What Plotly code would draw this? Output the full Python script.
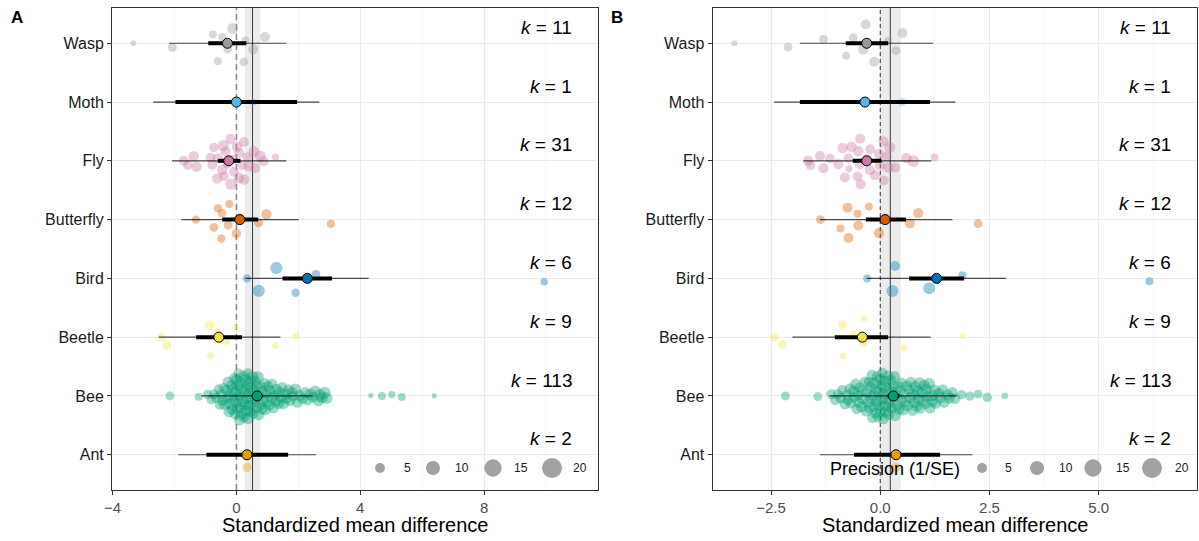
import numpy as np
import plotly.graph_objects as go

# Taxa listed from the bottom row (1) to the top row (8)
taxa = ["Ant", "Bee", "Beetle", "Bird", "Butterfly", "Fly", "Moth", "Wasp"]
taxon_colours = ["#E69F00", "#009E73", "#F0E442", "#0072B2",
                 "#D55E00", "#CC79A7", "#56B4E9", "#999999"]

# ---------------- Panel A: effect sizes (SMD) and precision (1/SE) ----------------
ant_smd_a = [0.34, 0.34]
ant_prec_a = [4.5, 4.5]

bee_smd_a = [
    -2.15, -1.22,
    -0.93, -0.81,
    -0.72, -0.65, -0.57, -0.53,
    -0.49, -0.45, -0.41, -0.37, -0.32, -0.29, -0.27,
    -0.24, -0.21, -0.20, -0.16, -0.14, -0.12, -0.09, -0.06, -0.05, -0.03, -0.01,
    0.01, 0.03, 0.04, 0.06, 0.07, 0.10, 0.12, 0.13, 0.16, 0.17, 0.19, 0.21, 0.23, 0.24,
    0.26, 0.28, 0.29, 0.32, 0.33, 0.35, 0.37, 0.38, 0.41, 0.42, 0.44, 0.46, 0.47, 0.49,
    0.52, 0.54, 0.55, 0.58, 0.60, 0.63, 0.66, 0.67, 0.70, 0.72, 0.74,
    0.77, 0.79, 0.83, 0.85, 0.87, 0.91, 0.93, 0.96, 0.99,
    1.02, 1.06, 1.08, 1.13, 1.15, 1.20, 1.23,
    1.28, 1.30, 1.36, 1.38, 1.44, 1.48,
    1.52, 1.59, 1.62, 1.68, 1.73,
    1.79, 1.83, 1.91, 1.97,
    2.04, 2.14, 2.22,
    2.30, 2.39, 2.47,
    2.54, 2.64, 2.70,
    2.77, 2.85, 2.92,
    4.34, 4.70, 5.02, 5.34, 6.39,
]
bee_prec_a = [
    4.0, 3.2,
    4.5, 5.0,
    5.0, 5.5, 4.8, 5.5,
    5.5, 6.0, 5.2, 6.5, 5.6, 6.0, 5.8,
    6.2, 5.6, 6.8, 5.4, 6.0, 7.0, 5.7, 6.3, 5.5, 6.6, 5.9,
    6.5, 5.8, 7.2, 6.0, 5.4, 6.7, 6.1, 7.0, 5.6, 6.4, 5.9, 7.3, 6.2, 5.7,
    6.9, 5.9, 6.3, 7.1, 5.5, 6.6, 6.0, 7.4, 5.8, 6.5, 6.1, 5.6, 7.0, 6.2,
    6.4, 5.7, 6.9, 6.0, 5.5, 7.1, 6.2, 5.8, 6.6, 5.9, 6.3,
    6.0, 5.6, 6.5, 5.9, 6.8, 5.5, 6.2, 5.7, 6.4,
    5.8, 6.3, 5.5, 6.6, 5.9, 6.1, 5.6,
    6.2, 5.7, 6.5, 5.8, 6.0, 5.6,
    5.9, 6.3, 5.6, 6.1, 5.8,
    6.0, 5.5, 6.4, 5.9,
    6.2, 5.8, 6.5,
    6.0, 6.6, 5.9,
    6.8, 6.4, 7.0,
    6.5, 7.2, 6.8,
    1.3, 3.2, 2.5, 3.2, 1.3,
]

beetle_smd_a = [-2.42, -2.24, -0.86, -0.84, -0.63, -0.33, -0.03, 1.26, 1.93]
beetle_prec_a = [3.5, 4.0, 4.5, 2.5, 3.0, 3.0, 2.2, 2.5, 2.2]

bird_smd_a = [0.34, 0.72, 1.29, 1.91, 2.57, 9.94]
bird_prec_a = [3.5, 7.5, 7.5, 3.5, 3.8, 2.8]

butterfly_smd_a = [-1.31, -0.73, -0.60, -0.49, -0.47, -0.27, -0.23, 0.00, 0.11, 0.72, 0.97, 3.05]
butterfly_prec_a = [3.5, 4.0, 3.5, 3.5, 3.5, 4.0, 3.5, 4.5, 4.0, 4.0, 5.5, 3.5]

fly_smd_a = [-1.70, -1.57, -1.38, -1.29, -0.84, -0.78, -0.73, -0.62, -0.60, -0.46,
             -0.43, -0.40, -0.35, -0.30, -0.19, -0.18, -0.10, -0.08, 0.02, 0.08,
             0.09, 0.18, 0.24, 0.25, 0.35, 0.40, 0.56, 0.61, 0.77, 0.88, 1.26]
fly_prec_a = [5.0, 4.5, 5.5, 5.5, 4.5, 5.0, 4.5, 5.5, 5.0, 5.5,
              6.5, 4.5, 5.0, 4.5, 5.5, 6.5, 4.5, 5.0, 5.5, 6.0,
              5.0, 4.5, 5.0, 5.5, 5.0, 5.5, 5.5, 5.0, 6.5, 5.0, 2.6]

moth_smd_a = [0.54]
moth_prec_a = [2.5]

wasp_smd_a = [-3.33, -2.07, -0.76, -0.60, -0.46, -0.28, -0.12, 0.24, 0.29, 0.54, 0.92]
wasp_prec_a = [1.8, 4.0, 3.2, 3.2, 3.2, 4.0, 6.0, 4.0, 3.2, 5.0, 5.0]

# Model estimates per taxon (order of `taxa`)
mean_a = [0.34, 0.67, -0.57, 2.29, 0.11, -0.25, 0.00, -0.29]
ci_lo_a = [-0.97, 0.56, -1.30, 1.49, -0.46, -0.60, -1.97, -0.91]
ci_hi_a = [1.67, 0.78, 0.18, 3.09, 0.70, 0.13, 1.96, 0.32]
pi_lo_a = [-1.88, -1.13, -2.51, 0.29, -1.78, -2.08, -2.69, -2.18]
pi_hi_a = [2.57, 2.47, 1.42, 4.27, 2.01, 1.61, 2.68, 1.61]
overall_a = 0.52
overall_ci_a = [0.27, 0.77]

# ---------------- Panel B: effect sizes (SMD) and precision (1/SE) ----------------
ant_smd_b = [0.36, 0.36]
ant_prec_b = [4.5, 4.5]

bee_smd_b = [
    -2.17, -1.43,
    -1.12, -1.03,
    -0.97, -0.90, -0.87, -0.81, -0.76,
    -0.74, -0.69, -0.67, -0.62, -0.60, -0.56, -0.54, -0.51,
    -0.49, -0.47, -0.43, -0.41, -0.39, -0.35, -0.32, -0.30, -0.27, -0.26,
    -0.24, -0.22, -0.21, -0.19, -0.18, -0.16, -0.14, -0.13, -0.11, -0.09, -0.08, -0.06, -0.05, -0.03, -0.02, -0.01,
    0.01, 0.03, 0.04, 0.05, 0.07, 0.09, 0.10, 0.12, 0.13, 0.14, 0.16, 0.18, 0.19, 0.21, 0.22, 0.24,
    0.26, 0.29, 0.30, 0.33, 0.34, 0.37, 0.38, 0.41, 0.43, 0.44, 0.47, 0.49,
    0.52, 0.54, 0.58, 0.61, 0.62, 0.66, 0.69, 0.70, 0.74,
    0.76, 0.79, 0.80, 0.84, 0.85, 0.88, 0.90, 0.92, 0.96, 0.98,
    1.01, 1.04, 1.05, 1.08, 1.12, 1.14, 1.19, 1.20, 1.24,
    1.27, 1.34, 1.37, 1.43, 1.46,
    1.54, 1.58, 1.65, 1.71,
    1.86, 2.05, 2.24, 2.45, 2.85,
]
bee_prec_b = [
    4.0, 4.0,
    5.0, 5.5,
    5.2, 5.8, 5.0, 6.0, 5.4,
    5.6, 6.2, 5.3, 6.0, 5.7, 6.4, 5.5, 5.9,
    6.1, 5.6, 6.5, 5.8, 6.3, 5.4, 6.7, 5.9, 6.2, 5.7,
    6.6, 5.8, 7.0, 6.1, 5.6, 6.8, 6.0, 7.2, 5.7, 6.4, 6.1, 6.9, 5.9, 6.5, 7.1, 6.0,
    6.8, 6.0, 7.3, 5.9, 6.5, 7.0, 5.7, 6.6, 6.2, 7.1, 5.8, 6.4, 6.9, 6.0, 6.7, 6.3,
    6.3, 5.8, 6.7, 6.0, 6.5, 5.6, 6.9, 6.1, 5.9, 6.6, 6.2, 5.7,
    6.2, 5.7, 6.6, 5.9, 6.4, 6.0, 6.8, 5.6, 6.3,
    6.5, 6.0, 6.9, 5.8, 6.6, 6.2, 7.0, 5.9, 6.4, 6.1,
    6.3, 5.8, 6.7, 6.0, 6.5, 5.9, 6.8, 6.1, 6.2,
    6.0, 5.7, 6.4, 5.8, 6.2,
    5.9, 6.3, 5.6, 6.0,
    4.5, 4.3, 4.0, 4.5, 2.2,
]

beetle_smd_b = [-2.43, -2.24, -0.86, -0.85, -0.62, -0.39, -0.37, 0.55, 1.88]
beetle_prec_b = [4.0, 4.0, 4.0, 2.5, 2.5, 3.2, 1.8, 2.5, 1.8]

bird_smd_b = [-0.30, 0.28, 0.34, 1.12, 1.88, 6.16]
bird_prec_b = [3.2, 7.2, 5.0, 7.2, 3.2, 3.2]

butterfly_smd_b = [-1.37, -0.91, -0.75, -0.73, -0.52, -0.50, -0.26, -0.03, 0.11, 0.68, 0.87, 2.24]
butterfly_prec_b = [4.0, 3.2, 5.0, 5.0, 3.2, 5.0, 3.2, 5.0, 4.0, 5.0, 5.0, 4.0]

fly_smd_b = [-1.65, -1.60, -1.38, -1.30, -1.15, -0.96, -0.86, -0.81, -0.73, -0.72,
             -0.66, -0.52, -0.50, -0.47, -0.46, -0.45, -0.31, -0.24, -0.23, -0.12,
             -0.03, -0.01, 0.07, 0.08, 0.15, 0.18, 0.22, 0.34, 0.60, 0.76, 1.24]
fly_prec_b = [5.5, 5.0, 5.0, 5.5, 4.5, 5.5, 5.5, 5.0, 4.5, 2.5,
              5.5, 5.0, 5.5, 5.5, 5.0, 5.0, 5.5, 5.5, 5.0, 5.0,
              5.0, 5.5, 5.5, 5.0, 5.0, 5.5, 6.0, 5.0, 5.5, 7.0, 3.0]

moth_smd_b = [0.50]
moth_prec_b = [3.2]

wasp_smd_b = [-3.34, -2.11, -1.30, -0.78, -0.62, -0.39, -0.33, -0.14, 0.18, 0.36, 0.51]
wasp_prec_b = [1.8, 4.0, 4.0, 3.2, 4.0, 5.0, 5.0, 5.0, 3.2, 4.0, 5.0]

mean_b = [0.36, 0.30, -0.41, 1.29, 0.11, -0.31, -0.35, -0.31]
ci_lo_b = [-0.60, 0.17, -1.04, 0.66, -0.33, -0.63, -1.84, -0.79]
ci_hi_b = [1.37, 0.44, 0.18, 1.92, 0.59, 0.03, 1.14, 0.18]
pi_lo_b = [-1.38, -1.17, -2.01, -0.31, -1.38, -1.76, -2.43, -1.84]
pi_hi_b = [2.11, 1.75, 1.15, 2.88, 1.65, 1.17, 1.72, 1.21]
overall_b = 0.23
overall_ci_b = [-0.01, 0.47]

legend_precision = [5, 10, 15, 20]

smd_a = [ant_smd_a, bee_smd_a, beetle_smd_a, bird_smd_a,
         butterfly_smd_a, fly_smd_a, moth_smd_a, wasp_smd_a]
prec_a = [ant_prec_a, bee_prec_a, beetle_prec_a, bird_prec_a,
          butterfly_prec_a, fly_prec_a, moth_prec_a, wasp_prec_a]
smd_b = [ant_smd_b, bee_smd_b, beetle_smd_b, bird_smd_b,
         butterfly_smd_b, fly_smd_b, moth_smd_b, wasp_smd_b]
prec_b = [ant_prec_b, bee_prec_b, beetle_prec_b, bird_prec_b,
          butterfly_prec_b, fly_prec_b, moth_prec_b, wasp_prec_b]

FONT = "Liberation Sans, Arial, Helvetica, sans-serif"
W, H = 1199, 541
Y_RANGE = [0.4, 8.6]


# ---------------- helpers ----------------
def point_size(p):
    """Marker diameter (px) with area proportional to precision."""
    return 4.47 * np.sqrt(np.asarray(p, float))


def rgba(hex_colour, alpha):
    h = hex_colour.lstrip("#")
    r, g, b = int(h[0:2], 16), int(h[2:4], 16), int(h[4:6], 16)
    return f"rgba({r},{g},{b},{alpha})"


def van_der_corput(n, base=2):
    seq = []
    for i in range(1, n + 1):
        v, denom, k = 0.0, 1.0, i
        while k:
            denom *= base
            k, r = divmod(k, base)
            v += r / denom
        seq.append(v)
    return np.array(seq)


def bw_nrd0(x):
    n = len(x)
    hi = np.std(x, ddof=1)
    q75, q25 = np.percentile(x, [75, 25])
    lo = min(hi, (q75 - q25) / 1.34)
    if lo == 0:
        lo = hi or abs(x[0]) or 1.0
    return 0.9 * lo * n ** -0.2


def quasirandom(values, width=0.43, adjust=0.5):
    """Quasirandom (van der Corput) offsets scaled by the kernel density."""
    x = np.asarray(values, float)
    n = len(x)
    if n < 2:
        return np.zeros(n)
    bw = bw_nrd0(x) * adjust
    grid = np.linspace(x.min() - 3 * bw, x.max() + 3 * bw, 1024)
    dens_grid = np.exp(-0.5 * ((grid[:, None] - x[None, :]) / bw) ** 2).sum(1)
    dens_pts = np.exp(-0.5 * ((x[:, None] - x[None, :]) / bw) ** 2).sum(1)
    dens_pts = dens_pts / dens_grid.max()
    ranks = np.argsort(np.argsort(x, kind="stable"), kind="stable")
    offset = van_der_corput(n)[ranks]
    return (offset - 0.5) * 2 * width * dens_pts


def add_reference(fig, mu, ci, zero_style, xa, ya):
    """Overall mean with its CI band and the line of no effect."""
    y0, y1 = Y_RANGE
    fig.add_trace(go.Scatter(
        x=[ci[0], ci[1], ci[1], ci[0], ci[0]], y=[y0, y0, y1, y1, y0],
        mode="lines", fill="toself", fillcolor="rgba(200,200,200,0.35)",
        line=dict(width=0), xaxis=xa, yaxis=ya, hoverinfo="skip", showlegend=False))
    fig.add_trace(go.Scatter(
        x=[0, 0], y=[y0, y1], mode="lines", line=zero_style,
        xaxis=xa, yaxis=ya, hoverinfo="skip", showlegend=False))
    fig.add_trace(go.Scatter(
        x=[mu, mu], y=[y0, y1], mode="lines", line=dict(color="#3a3a3a", width=1.0),
        xaxis=xa, yaxis=ya, hoverinfo="skip", showlegend=False))


def add_panel(fig, smd, prec, means, ci_lo, ci_hi, pi_lo, pi_hi, xa, ya):
    rows = np.arange(1, len(taxa) + 1)
    # individual effect sizes
    for i, (vals, ps) in enumerate(zip(smd, prec)):
        fig.add_trace(go.Scatter(
            x=vals, y=rows[i] + quasirandom(vals), mode="markers",
            xaxis=xa, yaxis=ya, hoverinfo="skip", showlegend=False,
            marker=dict(size=point_size(ps), color=rgba(taxon_colours[i], 0.55),
                        line=dict(width=0)),
        ))
    # prediction intervals
    for i in range(len(taxa)):
        fig.add_trace(go.Scatter(
            x=[pi_lo[i], pi_hi[i]], y=[rows[i], rows[i]], mode="lines",
            xaxis=xa, yaxis=ya, hoverinfo="skip", showlegend=False,
            line=dict(color="rgba(0,0,0,0.7)", width=1.2),
        ))
    # confidence intervals
    for i in range(len(taxa)):
        fig.add_trace(go.Scatter(
            x=[ci_lo[i], ci_hi[i]], y=[rows[i], rows[i]], mode="lines",
            xaxis=xa, yaxis=ya, hoverinfo="skip", showlegend=False,
            line=dict(color="black", width=4),
        ))
    # pooled means
    fig.add_trace(go.Scatter(
        x=means, y=rows, mode="markers", xaxis=xa, yaxis=ya,
        hoverinfo="skip", showlegend=False,
        marker=dict(size=10, color=taxon_colours, line=dict(color="black", width=1)),
    ))
    # k labels
    xdom = "x domain" if xa == "x" else f"{xa} domain"
    for i, vals in enumerate(smd):
        fig.add_annotation(
            xref=xdom, yref=ya, x=0.951, y=rows[i] + 0.27, xanchor="right",
            yanchor="middle", showarrow=False,
            text=f"<i>k</i> = {len(vals)}",
            font=dict(family=FONT, size=19, color="black"),
        )


fig = go.Figure()

add_reference(fig, overall_a, overall_ci_a,
              dict(color="#8c8c8c", width=1.6, dash="6px,4px"), "x", "y")
add_reference(fig, overall_b, overall_ci_b,
              dict(color="#333333", width=1.0, dash="4px,3px"), "x2", "y2")

add_panel(fig, smd_a, prec_a, mean_a, ci_lo_a, ci_hi_a, pi_lo_a, pi_hi_a, "x", "y")
add_panel(fig, smd_b, prec_b, mean_b, ci_lo_b, ci_hi_b, pi_lo_b, pi_hi_b, "x2", "y2")

# size legends (drawn in a pixel-space overlay)
legend_colour = "#7a7a7a"
for xs, lx, y0 in [([380, 433, 493, 552], [407, 462, 521, 580], 468),
                   ([982, 1037, 1093, 1152], [1008, 1066, 1123, 1182], 468)]:
    fig.add_trace(go.Scatter(
        x=xs, y=[y0] * 4, mode="markers", xaxis="x3", yaxis="y3",
        hoverinfo="skip", showlegend=False,
        marker=dict(size=point_size(legend_precision), color=legend_colour, line=dict(width=0)),
    ))
    for x, p in zip(lx, legend_precision):
        fig.add_annotation(xref="x3", yref="y3", x=x, y=y0, text=str(p), showarrow=False,
                           xanchor="center", yanchor="middle",
                           font=dict(family=FONT, size=12, color="#1a1a1a"))
fig.add_annotation(xref="x3", yref="y3", x=828, y=469, text="Precision (1/SE)",
                   showarrow=False, xanchor="left", yanchor="middle",
                   font=dict(family=FONT, size=18, color="black"))

# panel tags and axis titles
for x, tag in [(17, "A"), (617, "B")]:
    fig.add_annotation(xref="x3", yref="y3", x=x, y=17, text=f"<b>{tag}</b>",
                       showarrow=False, xanchor="center", yanchor="middle",
                       font=dict(family=FONT, size=17, color="black"))
for x in [355, 955]:
    fig.add_annotation(xref="x3", yref="y3", x=x, y=525, text="Standardized mean difference",
                       showarrow=False, xanchor="center", yanchor="middle",
                       font=dict(family=FONT, size=20, color="black"))

ydomain = [(H - 490) / H, (H - 8) / H]
axis_common = dict(showline=True, mirror=True, linecolor="#333333", linewidth=1,
                   ticks="outside", ticklen=4, tickcolor="#333333", tickwidth=1,
                   zeroline=False, gridcolor="#ebebeb", gridwidth=1, fixedrange=True,
                   automargin=False)

fig.update_layout(
    width=W, height=H,
    margin=dict(l=0, r=0, t=0, b=0, autoexpand=False),
    paper_bgcolor="white", plot_bgcolor="rgba(0,0,0,0)",
    font=dict(family=FONT),
    xaxis=dict(domain=[112 / W, 598 / W], range=[-4.02, 11.68],
               tickmode="array", tickvals=[-4, 0, 4, 8],
               tickfont=dict(size=15, color="#4d4d4d"),
               minor=dict(tickmode="array", tickvals=[-2, 2, 6, 10], showgrid=True,
                          gridcolor="#f4f4f4", gridwidth=1, ticks=""),
               anchor="y", **axis_common),
    yaxis=dict(domain=ydomain, range=Y_RANGE, tickmode="array",
               tickvals=list(range(1, len(taxa) + 1)), ticktext=taxa,
               tickfont=dict(size=16, color="#1a1a1a"), anchor="x", **axis_common),
    xaxis2=dict(domain=[712.5 / W, 1197 / W], range=[-3.84, 7.25],
                tickmode="array", tickvals=[-2.5, 0, 2.5, 5.0], tickformat=".1f",
                tickfont=dict(size=15, color="#4d4d4d"),
                minor=dict(tickmode="array", tickvals=[-1.25, 1.25, 3.75, 6.25], showgrid=True,
                           gridcolor="#f4f4f4", gridwidth=1, ticks=""),
                anchor="y2", **axis_common),
    yaxis2=dict(domain=ydomain, range=Y_RANGE, tickmode="array",
                tickvals=list(range(1, len(taxa) + 1)), ticktext=taxa,
                tickfont=dict(size=16, color="#1a1a1a"), anchor="x2", **axis_common),
    xaxis3=dict(domain=[0, 1], range=[0, W], visible=False, fixedrange=True,
                anchor="y3", automargin=False),
    yaxis3=dict(domain=[0, 1], range=[H, 0], visible=False, fixedrange=True,
                anchor="x3", automargin=False),
)

fig.write_html("out.html")
